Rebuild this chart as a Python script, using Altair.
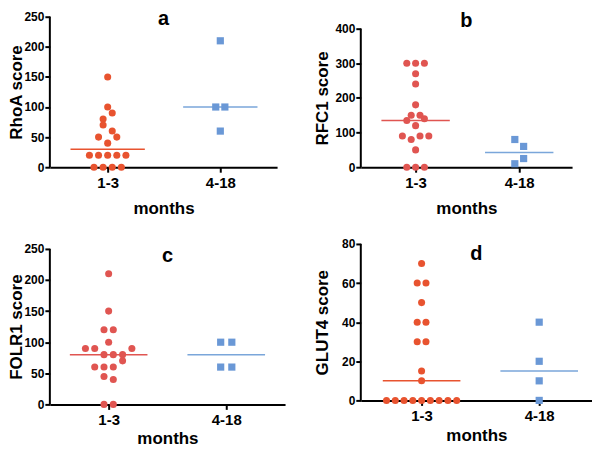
import altair as alt
import pandas as pd

FONT = "Liberation Sans"
RED_A = "#E8532F"
RED_B = "#E05551"
BLUE = "#6A98D6"
BLUE_LINE = "#7AA6DA"

categories = ["1-3", "4-18"]
x_title = "months"

# panel a: RhoA score (values and swarm column index, in half-dot units)
rhoa_young = [150, 100, 80, 90, 70, 60, 50, 50, 40, 20, 20, 20, 20, 20, 0, 0, 0, 0]
rhoa_young_col = [0, 0, -1, 1, -1, 1, -2, 2, 0, -4, -2, 0, 2, 4, -3, -1, 1, 3]
rhoa_old = [210, 100, 100, 60]
rhoa_old_col = [0, -1, 1, 0]

# panel b: RFC1 score
rfc1_young = [300, 300, 300, 270, 240, 180, 150, 150, 140, 135, 120, 90, 90, 90, 80, 50, 0, 0, 0]
rfc1_young_col = [-2, 0, 2, 0, 0, 0, -1, 1, 2, -2, 0, -3, 1, 3, -1, 0, -2, 0, 2]
rfc1_old = [80, 60, 25, 10]
rfc1_old_col = [-1, 1, 1, -1]

# panel c: FOLR1 score
folr1_young = [210, 150, 120, 120, 100, 90, 90, 90, 80, 80, 80, 70, 60, 60, 60, 45, 40, 0, 0]
folr1_young_col = [0, 0, -1, 1, 0, -5, -3, 5, -1, 1, 3, 3, -3, -1, 1, -1, 1, -1, 1]
folr1_old = [100, 100, 60, 60]
folr1_old_col = [-1.2, 1.2, -1.2, 1.2]

# panel d: GLUT4 score
glut4_young = [70, 60, 60, 50, 40, 40, 30, 30, 15, 10, 0, 0, 0, 0, 0, 0, 0, 0, 0]
glut4_young_col = [0, -1, 1, 0, -1, 1, -1, 1, 0, 0, -8, -6, -4, -2, 0, 2, 4, 6, 8]
glut4_old = [40, 20, 10, 0]
glut4_old_col = [0, 0, 0, 0]


def panel(letter, ytitle, young, young_col, old, old_col, *, width, height,
          xdom, ydom_top, ymax, ystep, step, red, title_offset, title_x, title_y,
          xtitle_pad):
    df = pd.DataFrame({
        "group": [1] * len(young) + [2] * len(old),
        "value": young + old,
        "col": young_col + old_col,
    })
    yscale = alt.Scale(domain=[0, ydom_top], nice=False, zero=True)
    xscale = alt.Scale(domain=xdom, nice=False, zero=False)
    yaxis = alt.Axis(
        values=list(range(0, ymax + 1, ystep)), domain=False, grid=False,
        tickSize=5, tickWidth=2, tickColor="black",
        labelPadding=1, labelFontSize=12, labelFont=FONT, labelFontWeight="bold",
        labelColor="black",
        titleFont=FONT, titleFontSize=17, titleFontWeight="bold", titleColor="black",
        titleX=title_x, titleY=title_y, titleBaseline="alphabetic", titleAlign="center",
        titleAngle=270,
    )
    label_expr = f"datum.value == 1 ? '{categories[0]}' : '{categories[1]}'"
    xaxis = alt.Axis(
        values=[1, 2], labelExpr=label_expr, grid=False, labelFlush=False,
        domainWidth=2, domainColor="black",
        tickSize=5, tickWidth=2, tickColor="black",
        labelPadding=3, labelFontSize=15, labelFont=FONT, labelFontWeight="bold",
        labelColor="black",
        titleFont=FONT, titleFontSize=17, titleFontWeight="bold", titleColor="black",
        titlePadding=xtitle_pad,
    )

    def xenc(f):
        return alt.X(f, type="quantitative", scale=xscale, axis=xaxis, title=x_title)

    def yenc(f):
        return alt.Y(f, type="quantitative", scale=yscale, axis=yaxis, title=ytitle)

    base = alt.Chart(df)
    yline = base.transform_aggregate(n="count()").mark_rule(
        color="black", strokeWidth=2
    ).encode(
        x=alt.value(0),
        y=alt.YDatum(0, type="quantitative", scale=yscale, axis=yaxis, title=ytitle),
        y2=alt.Y2Datum(ymax),
    )
    med = base.transform_aggregate(
        median="median(value)", groupby=["group"]
    ).transform_calculate(
        x1="datum.group - 0.33", x2="datum.group + 0.33"
    ).mark_rule(strokeWidth=1.5).encode(
        x=xenc("x1"),
        x2="x2:Q",
        y=yenc("median"),
        color=alt.when(alt.datum.group == 1).then(alt.value(red)).otherwise(alt.value(BLUE_LINE)),
    )
    pts_young = base.transform_filter(alt.datum.group == 1).transform_calculate(
        xpos=f"datum.group + datum.col * {step}"
    ).mark_circle(size=50, color=red, opacity=1).encode(x=xenc("xpos"), y=yenc("value"))
    pts_old = base.transform_filter(alt.datum.group == 2).transform_calculate(
        xpos=f"datum.group + datum.col * {step}"
    ).mark_square(size=52, color=BLUE, opacity=1).encode(x=xenc("xpos"), y=yenc("value"))

    return alt.layer(yline, med, pts_young, pts_old).properties(
        width=width, height=height,
        title=alt.Title(letter, fontSize=20, fontWeight="bold", font=FONT, color="black",
                        anchor="middle", frame="group", offset=title_offset),
    )


a = panel("a", "RhoA score", rhoa_young, rhoa_young_col, rhoa_old, rhoa_old_col,
          width=228, height=151, xdom=[0.4867, 2.504], ydom_top=250, ymax=250, ystep=50,
          step=0.0405, red=RED_A, title_offset=-18.5, title_x=-28, title_y=75.5,
          xtitle_pad=10)
b = panel("b", "RFC1 score", rfc1_young, rfc1_young_col, rfc1_old, rfc1_old_col,
          width=212, height=151, xdom=[0.471, 2.51], ydom_top=434.5, ymax=400, ystep=100,
          step=0.0425, red=RED_B, title_offset=-14.5, title_x=-33, title_y=81.5,
          xtitle_pad=10)
c = panel("c", "FOLR1 score", folr1_young, folr1_young_col, folr1_old, folr1_old_col,
          width=236, height=161, xdom=[0.5, 2.5], ydom_top=258, ymax=250, ystep=50,
          step=0.0395, red=RED_B, title_offset=-23.4, title_x=-28, title_y=83,
          xtitle_pad=3)
d = panel("d", "GLUT4 score", glut4_young, glut4_young_col, glut4_old, glut4_old_col,
          width=232, height=157, xdom=[0.483, 2.449], ydom_top=80, ymax=80, ystep=20,
          step=0.0373, red=RED_A, title_offset=-26.4, title_x=-33, title_y=78.5,
          xtitle_pad=4)

chart = alt.concat(
    a, b, c, d, columns=2, spacing={"row": 77, "column": 76},
    bounds="flush", align="each",
).properties(
    autosize=alt.AutoSizeParams(type="none"),
    padding={"left": 42, "top": 8, "right": 544, "bottom": 431},
    background="white",
).configure_view(stroke=None)

chart.save("out.html", embed_options={"renderer": "svg", "actions": False})
